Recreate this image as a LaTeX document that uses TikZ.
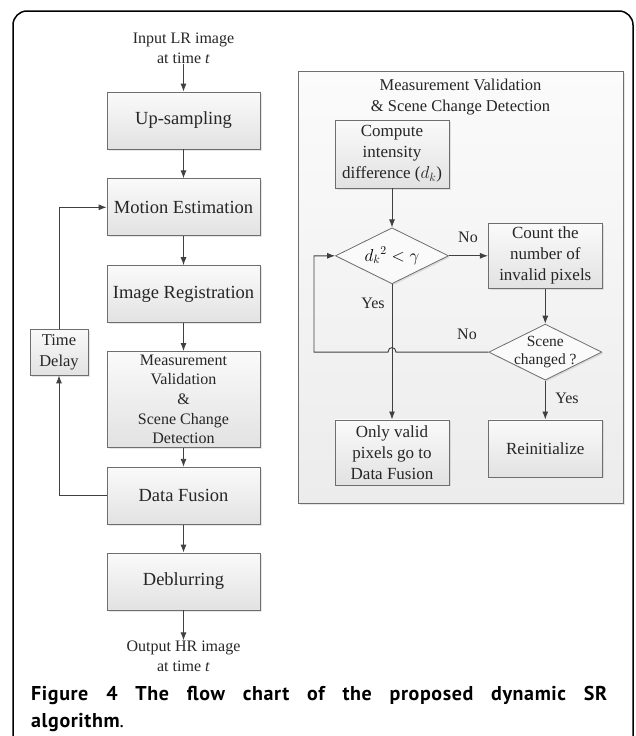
\documentclass[tikz,border=0pt]{standalone}
\usepackage{fontspec}
\setmainfont{Liberation Serif}
\newfontfamily\capfont[LetterSpace=3]{PT Sans}
\usepackage{tikz}
\usetikzlibrary{shapes,arrows.meta,positioning,calc,shadows}
\definecolor{boxline}{RGB}{110,110,110}
\definecolor{arrowline}{RGB}{64,64,64}
\definecolor{boxtop}{RGB}{250,250,250}
\definecolor{boxbottom}{RGB}{226,226,226}
\definecolor{paneltop}{RGB}{251,251,251}
\definecolor{panelbottom}{RGB}{236,236,236}

\begin{document}
\begin{tikzpicture}[
    x=1pt, y=-1pt,
    >={Latex[length=8pt,width=6pt]},
    box/.style={rectangle, draw=boxline, line width=0.8pt, top color=boxtop, bottom color=boxbottom,
        drop shadow={opacity=0.2, shadow xshift=1.5pt, shadow yshift=-1.5pt}, align=center, text=black!85, inner sep=2pt},
    bigbox/.style={box, minimum width=153pt, minimum height=57pt, font=\fontsize{18.5}{21}\selectfont},
    smallbox/.style={box, minimum width=114pt, font=\fontsize{17}{21}\selectfont},
    decision/.style={diamond, draw=boxline, line width=0.8pt, fill=boxtop, minimum width=113pt, minimum height=56pt,
        inner sep=0pt, aspect=2, drop shadow={opacity=0.2, shadow xshift=1.5pt, shadow yshift=-1.5pt},
        font=\fontsize{17}{21}\selectfont},
    panel/.style={rectangle, draw=boxline, line width=0.8pt, top color=paneltop, bottom color=panelbottom,
        drop shadow={opacity=0.2, shadow xshift=1.5pt, shadow yshift=-1.5pt}},
    plain/.style={align=center, inner sep=0pt, text=black!85, font=\fontsize{16}{20}\selectfont},
    line/.style={draw=arrowline, line width=0.9pt}
]
    \useasboundingbox (0,0) rectangle (635,736);
    \clip (0,0) rectangle (635,736);
    \draw[line width=1.5pt, rounded corners=14pt] (13,11) rectangle (633,780);

    % Main loop
    \node[bigbox] (up) at (183.5,120.5) {Up-sampling};
    \node[bigbox, below=29pt of up] (motion) {Motion Estimation};
    \node[bigbox, below=29pt of motion] (reg) {Image Registration};
    \node[bigbox, below=28pt of reg, minimum height=96pt, font=\fontsize{16}{19.7}\selectfont] (check) {Measurement\\Validation\\\&\\Scene Change\\Detection};
    \node[bigbox, below=19pt of check] (fusion) {Data Fusion};
    \node[bigbox, below=28pt of fusion] (deblur) {Deblurring};
    \node[plain, above=28pt of up] (input) {Input LR image\\at time \textit{t}};
    \node[plain, below=30pt of deblur] (output) {Output HR image\\at time \textit{t}};
    \node[box, minimum width=58pt, minimum height=46pt, font=\fontsize{16.5}{21}\selectfont] (delay) at (59,352) {Time\\Delay};

    \draw[line, ->] (input) -- (up);
    \draw[line, ->] (up) -- (motion);
    \draw[line, ->] (motion) -- (reg);
    \draw[line, ->] (reg) -- (check);
    \draw[line, ->] (check) -- (fusion);
    \draw[line, ->] (fusion) -- (deblur);
    \draw[line, ->] (deblur) -- (output);
    \draw[line, ->] (fusion.west) -| (delay.south);
    \draw[line, ->] (delay.north) |- (motion.west);

    % Validation and scene change detail
    \node[panel, minimum width=325pt, minimum height=432pt] (panel) at (460.5,287) {};
    \node[plain, below=8pt of panel.north, font=\fontsize{16.5}{21}\selectfont] (title) {Measurement Validation\\\& Scene Change Detection};
    \node[smallbox, minimum height=68pt] (compute) at (392,154) {Compute\\intensity\\difference ($d_k$)};
    \node[decision, below=39pt of compute] (test) {$d_k{}^2 < \gamma$};
    \node[smallbox, minimum height=65pt, right=39pt of test] (count) {Count the\\number of\\invalid pixels};
    \node[decision, below=35pt of count] (scene) {};
    \node[plain, font=\fontsize{15.5}{18}\selectfont] (scenetext) at (scene) {Scene\\changed ?};
    \node[smallbox, minimum height=57pt, below=39pt of scene] (reinit) {Reinitialize};
    \node[smallbox, minimum height=65pt, anchor=north] (only) at (test.south |- reinit.north) {Only valid\\pixels go to\\Data Fusion};

    \node[plain] (no1) at (468,237) {No};
    \node[plain] (yes1) at (373,303) {Yes};
    \node[plain] (no2) at (467,334) {No};
    \node[plain] (yes2) at (567,398) {Yes};

    \draw[line, ->] (compute) -- (test);
    \draw[line, ->] (test) -- (count);
    \draw[line, ->] (count) -- (scene);
    \draw[line, ->] (scene) -- (reinit);
    \draw[line, ->] (test) -- (only);
    \coordinate (hop) at (test.south |- scene.west);
    \draw[line, ->] (scene.west) -- ([xshift=4pt]hop) .. controls ([xshift=4pt,yshift=6pt]hop) and ([xshift=-4pt,yshift=6pt]hop) .. ([xshift=-4pt]hop) -- ([xshift=-78pt]hop) |- (test.west);

    % Caption
    \node[anchor=north west, inner sep=0pt, align=left, font=\capfont\bfseries\fontsize{20}{27}\selectfont] (caption) at (31,686)
        {\makebox[576pt][s]{Figure 4 The flow chart of the proposed dynamic SR}\\algorithm{\mdseries.}};
\end{tikzpicture}
\end{document}
